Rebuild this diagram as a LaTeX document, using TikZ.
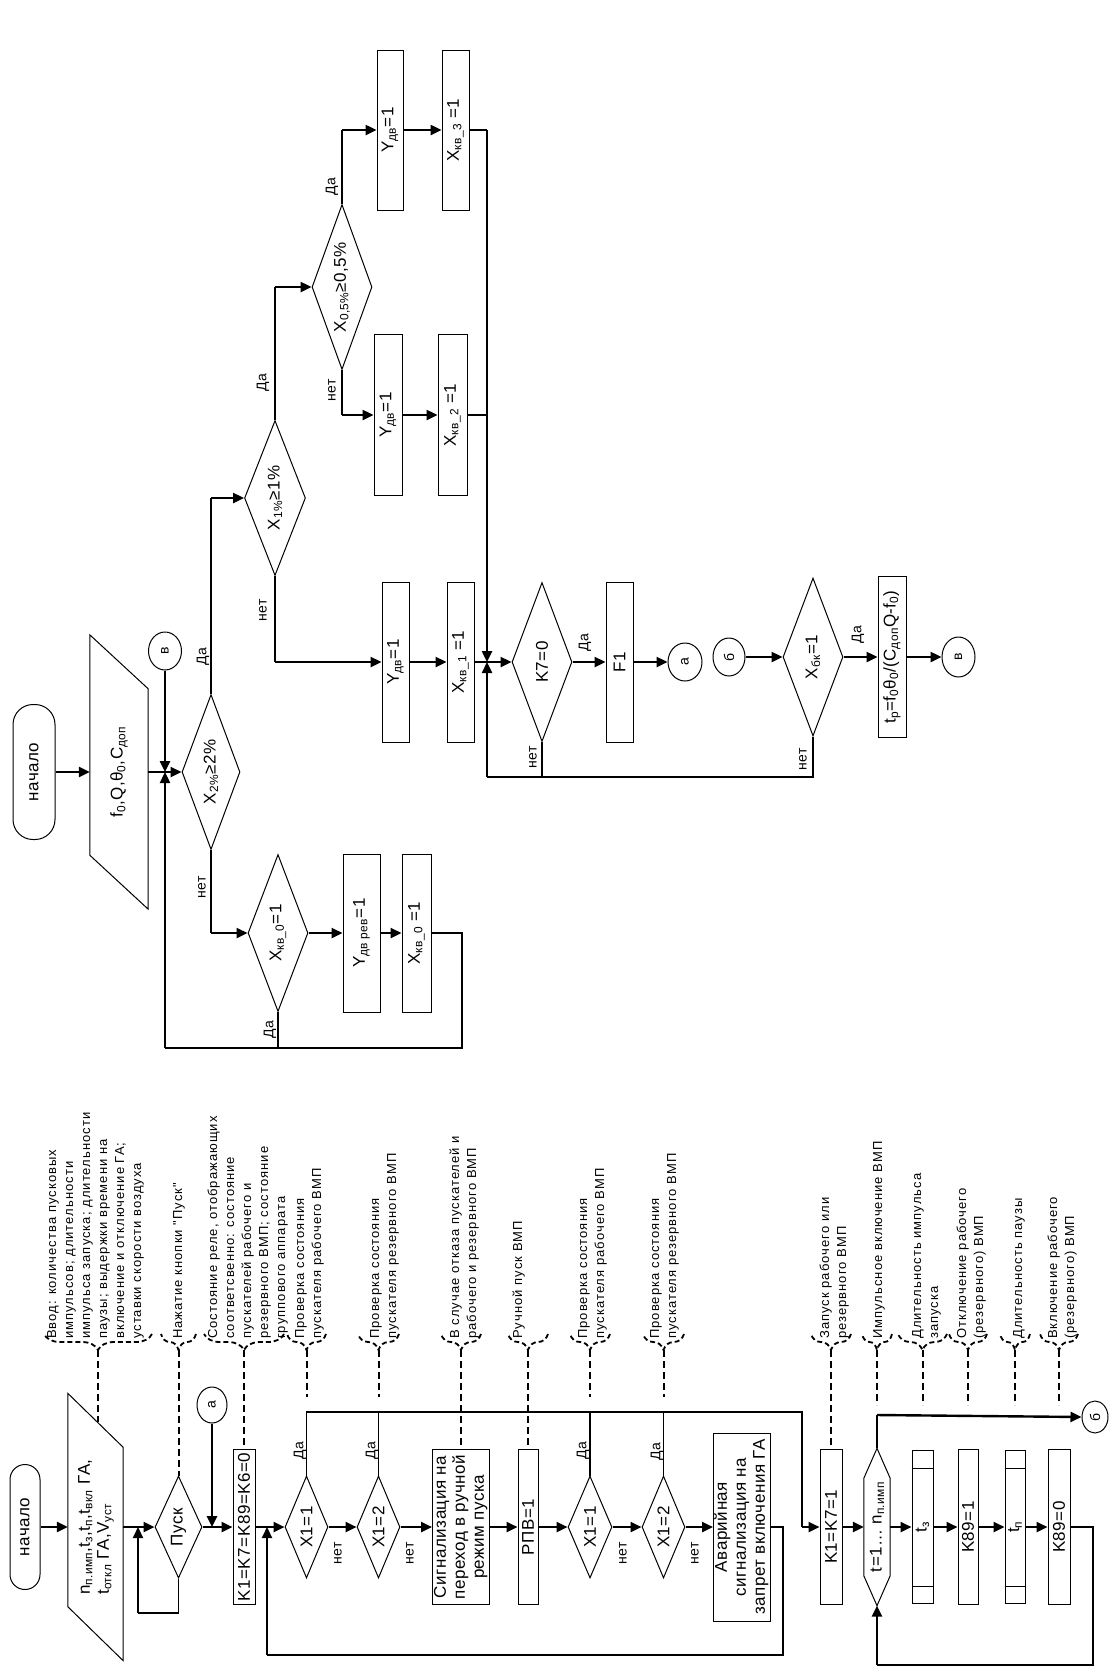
\documentclass[tikz,border=0pt]{standalone}
\usepackage{fontspec}
\setmainfont{Liberation Sans}
\newfontfamily\flowf{Liberation Sans}[LetterSpace=3]
\newfontfamily\annf{Liberation Sans}[LetterSpace=8]
\usetikzlibrary{shapes.geometric,arrows.meta,decorations.pathreplacing}
\newcommand{\myFF}{\flowf\fontsize{17}{19}\selectfont}
\newcommand{\myAF}{\annf\fontsize{13}{17}\selectfont}
\newcommand{\myLF}{\flowf\fontsize{14}{16}\selectfont}
\newcommand{\RotT}[1]{\rotatebox{90}{#1}}
\newcommand{\RotC}[1]{\rotatebox{90}{\begin{tabular}{@{}c@{}}#1\end{tabular}}}
\newcommand{\RotL}[1]{\rotatebox{90}{\begin{tabular}{@{}l@{}}#1\end{tabular}}}
\begin{document}
\begin{tikzpicture}[x=1pt,y=-1pt,
  sshp/.style={line width=1pt},
  sbox/.style={draw,line width=1pt,inner sep=0pt,font=\myFF},
  sdia/.style={draw,diamond,line width=1pt,inner sep=0pt,font=\myFF},
  sterm/.style={draw,line width=1pt,inner sep=0pt,font=\myFF},
  scon/.style={draw,ellipse,line width=1pt,inner sep=0pt,font=\myLF},
  sarr/.style={line width=2.4pt,-{Triangle[length=11pt,width=10pt]}},
  sln/.style={line width=1.2pt},
  slead/.style={line width=2pt,dash pattern=on 7pt off 4pt},
  sbrc/.style={line width=1.8pt,dash pattern=on 5pt off 3pt,decorate,decoration={brace,amplitude=16pt}},
  slab/.style={inner sep=0pt,font=\myLF},
  sann/.style={anchor=south west,inner sep=0pt,font=\myAF}
]
\fill[white] (0,0) rectangle (1109,1668);
\useasboundingbox (0,0) rectangle (1109,1668);

% ================= upper chart =================
\node[sterm,rounded corners=20pt,minimum width=42,minimum height=135] (n1) at (34,772) {\RotT{начало}};
\node[inner sep=0pt,font=\myFF,minimum width=58,minimum height=274] (par1) at (119,772) {\RotT{f\textsubscript{0},Q,θ\textsubscript{0},C\textsubscript{доп}}};
\draw[sshp] (par1.north west) -- ([yshift=54pt]par1.south west) -- (par1.south east) -- ([yshift=-54pt]par1.north east) -- cycle;
\node[scon,minimum width=33,minimum height=38] (cv1) at (165,651) {\RotT{в}};
\coordinate (j1) at (165,772);
\node[sdia,aspect=0.374,minimum width=58,minimum height=155] (d2) at (211,772) {\RotT{X\textsubscript{2\%}≥2\%}};
\node[sdia,aspect=0.39,minimum width=61,minimum height=155] (d1) at (275,498) {\RotT{X\textsubscript{1\%}≥1\%}};
\node[sdia,aspect=0.364,minimum width=60,minimum height=165] (d05) at (342,287) {\RotT{X\textsubscript{0,5\%}≥0,5\%}};
\node[sbox,minimum width=26,minimum height=160] (ya) at (390,130) {\RotT{Y\textsubscript{дв}=1}};
\node[sbox,minimum width=27,minimum height=160] (xa) at (455.5,130) {\RotT{X\textsubscript{кв\_3} =1}};
\node[sbox,minimum width=28,minimum height=161] (yb) at (388,415) {\RotT{Y\textsubscript{дв}=1}};
\node[sbox,minimum width=29,minimum height=161] (xb) at (452.5,415) {\RotT{X\textsubscript{кв\_2} =1}};
\node[sbox,minimum width=27,minimum height=160] (yc) at (395.5,662) {\RotT{Y\textsubscript{дв}=1}};
\node[sbox,minimum width=27,minimum height=160] (xc) at (460.5,662) {\RotT{X\textsubscript{кв\_1} =1}};
\coordinate (j2) at (487,662);
\node[sdia,aspect=0.377,minimum width=60,minimum height=159] (k7) at (542,662) {\RotT{K7=0}};
\node[sbox,minimum width=27,minimum height=160] (f1) at (619.5,662) {\RotT{F1}};
\node[scon,minimum width=34,minimum height=38] (ca) at (685,662) {\RotT{а}};
\node[scon,minimum width=32,minimum height=38] (cb) at (729,657) {\RotT{б}};
\node[sdia,aspect=0.38,minimum width=60,minimum height=158] (dbk) at (813,657) {\RotT{X\textsubscript{бк}=1}};
\node[sbox,minimum width=28,minimum height=161] (tp) at (892,657) {\RotT{t\textsubscript{p}=f\textsubscript{0}θ\textsubscript{0}/(C\textsubscript{доп}Q-f\textsubscript{0})}};
\node[scon,minimum width=33,minimum height=40] (cv2) at (958.5,657) {\RotT{в}};
\node[sdia,aspect=0.382,minimum width=60,minimum height=157] (d0) at (278,933) {\RotT{X\textsubscript{кв\_0}=1}};
\node[sbox,minimum width=37,minimum height=158] (yr) at (361.5,933) {\RotT{Y\textsubscript{дв рев}=1}};
\node[sbox,minimum width=29,minimum height=158] (x0) at (416.5,933) {\RotT{X\textsubscript{кв\_0} =1}};

\draw[sarr] (n1) -- (par1);
\draw[sarr] (par1) -- (d2);
\draw[sarr] (cv1) -- (j1);
\coordinate (u1) at (462,933); \coordinate (u2) at (462,1048); \coordinate (u3) at (165,1048);
\draw[sln] (x0.east) -- (u1) -- (u2) -- (u3);
\draw[sarr] (u3) -- (j1);
\draw[sln] (d0.south) -- (d0.south |- u2);
\coordinate (u4) at (211,498); \draw[sln] (d2.north) -- (u4); \draw[sarr] (u4) -- (d1.west);
\coordinate (u5) at (211,933); \draw[sln] (d2.south) -- (u5); \draw[sarr] (u5) -- (d0.west);
\coordinate (u6) at (275,287); \draw[sln] (d1.north) -- (u6); \draw[sarr] (u6) -- (d05.west);
\coordinate (u7) at (275,662); \draw[sln] (d1.south) -- (u7); \draw[sarr] (u7) -- (yc.west);
\coordinate (u8) at (342,130); \draw[sln] (d05.north) -- (u8); \draw[sarr] (u8) -- (ya.west);
\coordinate (u9) at (342,415); \draw[sln] (d05.south) -- (u9); \draw[sarr] (u9) -- (yb.west);
\draw[sarr] (ya) -- (xa);
\draw[sarr] (yb) -- (xb);
\draw[sarr] (yc) -- (xc);
\draw[sarr] (d0) -- (yr);
\draw[sarr] (yr) -- (x0);
\coordinate (u10) at (487,130); \draw[sln] (xa.east) -- (u10); \draw[sarr] (u10) -- (j2);
\draw[sln] (xb.east) -- (xb.east -| j2);
\draw[sarr] (xc) -- (k7);
\coordinate (u11) at (487,777); \coordinate (u12) at (813,777);
\draw[sln] (dbk.south) -- (u12) -- (u11);
\draw[sarr] (u11) -- (j2);
\draw[sln] (k7.south) -- (k7.south |- u11);
\draw[sarr] (k7) -- (f1);
\draw[sarr] (f1) -- (ca);
\draw[sarr] (cb) -- (dbk);
\draw[sarr] (dbk) -- (tp);
\draw[sarr] (tp) -- (cv2);

\node[slab] (l1) at (203,657) {\RotT{Да}};
\node[slab] (l2) at (202,887) {\RotT{нет}};
\node[slab] (l3) at (263,383) {\RotT{Да}};
\node[slab] (l4) at (263,610) {\RotT{нет}};
\node[slab] (l5) at (332,187) {\RotT{Да}};
\node[slab] (l6) at (332,390) {\RotT{нет}};
\node[slab] (l7) at (585,643) {\RotT{Да}};
\node[slab] (l8) at (533,757) {\RotT{нет}};
\node[slab] (l9) at (858,635) {\RotT{Да}};
\node[slab] (l10) at (803,759) {\RotT{нет}};
\node[slab] (l11) at (270,1030) {\RotT{Да}};

% ================= lower chart =================
\node[sterm,rounded corners=15pt,minimum width=30,minimum height=125] (n2) at (25,1527) {\RotT{начало}};
\node[inner sep=0pt,font=\myFF,minimum width=55,minimum height=267] (par2) at (95.5,1527) {\RotL{n\textsubscript{п.имп},t\textsubscript{з},t\textsubscript{п},t\textsubscript{вкл} ГА,\\t\textsubscript{откл} ГА,V\textsubscript{уст}}};
\draw[sshp] (par2.north west) -- ([yshift=54pt]par2.south west) -- (par2.south east) -- ([yshift=-54pt]par2.north east) -- cycle;
\coordinate (j3) at (138,1527);
\node[sdia,aspect=0.46,minimum width=47,minimum height=102] (pusk) at (178.5,1527) {\RotT{Пуск}};
\node[scon,minimum width=30,minimum height=36] (ca2) at (212,1405) {\RotT{а}};
\coordinate (j4) at (212,1527);
\node[sbox,minimum width=22,minimum height=155] (k1) at (244,1527) {\RotT{K1=K7=K89=K6=0}};
\coordinate (j5) at (267,1527);
\node[sdia,aspect=0.42,minimum width=43,minimum height=102] (x11) at (306.5,1527) {\RotT{X1=1}};
\node[sdia,aspect=0.42,minimum width=43,minimum height=102] (x12) at (378.5,1527) {\RotT{X1=2}};
\node[sbox,minimum width=56,minimum height=155] (sig) at (461,1527) {\RotC{Сигнализация на\\переход в ручной\\режим пуска}};
\node[sbox,minimum width=20,minimum height=155] (rpv) at (528,1527) {\RotT{РПВ=1}};
\node[sdia,aspect=0.43,minimum width=44,minimum height=102] (x13) at (590,1527) {\RotT{X1=1}};
\node[sdia,aspect=0.42,minimum width=43,minimum height=102] (x14) at (663.5,1527) {\RotT{X1=2}};
\node[sbox,minimum width=56,minimum height=188] (avar) at (742,1527) {\RotC{Аварийная\\сигнализация на\\запрет включения ГА}};
\node[sbox,minimum width=22,minimum height=155] (k17) at (831,1527) {\RotT{K1=K7=1}};
\node[inner sep=0pt,font=\myFF,minimum width=26,minimum height=157] (loop) at (877,1527) {\RotT{t=1… n\textsubscript{п.имп}}};
\draw[sshp] (loop.north) -- ([yshift=-30pt]loop.north east) -- ([yshift=30pt]loop.south east) -- (loop.south) -- ([yshift=30pt]loop.south west) -- ([yshift=-30pt]loop.north west) -- cycle;
\node[sbox,minimum width=21,minimum height=153] (t3) at (922.5,1527) {\RotT{t\textsubscript{з}}};
\draw[sshp] ([yshift=-18pt]t3.north west) -- ([yshift=-18pt]t3.north east);
\draw[sshp] ([yshift=18pt]t3.south west) -- ([yshift=18pt]t3.south east);
\node[sbox,minimum width=20,minimum height=155] (k891) at (968,1527) {\RotT{K89=1}};
\node[sbox,minimum width=20,minimum height=153] (tn) at (1015,1527) {\RotT{t\textsubscript{п}}};
\draw[sshp] ([yshift=-18pt]tn.north west) -- ([yshift=-18pt]tn.north east);
\draw[sshp] ([yshift=18pt]tn.south west) -- ([yshift=18pt]tn.south east);
\node[sbox,minimum width=22,minimum height=155] (k890) at (1059,1527) {\RotT{K89=0}};
\node[scon,minimum width=26,minimum height=32] (cb2) at (1095,1417) {\RotT{б}};

\draw[sarr] (n2) -- (par2);
\draw[sarr] (par2) -- (pusk);
\coordinate (v1) at (178.5,1613); \coordinate (v2) at (138,1613);
\draw[sln] (pusk.south) -- (v1) -- (v2);
\draw[sarr] (v2) -- (j3);
\draw[sarr] (pusk) -- (k1);
\draw[sarr] (ca2) -- (j4);
\draw[sarr] (k1) -- (x11);
\draw[sarr] (x11) -- (x12);
\draw[sarr] (x12) -- (sig);
\draw[sarr] (sig) -- (rpv);
\draw[sarr] (rpv) -- (x13);
\draw[sarr] (x13) -- (x14);
\draw[sarr] (x14) -- (avar);
\coordinate (w1) at (306.5,1412); \coordinate (w2) at (802,1412); \coordinate (w3) at (802,1527);
\draw[sln] (x11.north) -- (w1) -- (w2) -- (w3);
\draw[sarr] (w3) -- (k17);
\draw[sln] (x12.north) -- (x12.north |- w1);
\draw[sln] (x13.north) -- (x13.north |- w1);
\draw[sln] (x14.north) -- (x14.north |- w1);
\coordinate (w4) at (783,1527); \coordinate (w5) at (783,1655); \coordinate (w6) at (267,1655);
\draw[sln] (avar.east) -- (w4) -- (w5) -- (w6);
\draw[sarr] (w6) -- (j5);
\draw[sarr] (k17) -- (loop);
\draw[sarr] (loop) -- (t3);
\draw[sarr] (t3) -- (k891);
\draw[sarr] (k891) -- (tn);
\draw[sarr] (tn) -- (k890);
\coordinate (w7) at (1093,1527); \coordinate (w8) at (1093,1665); \coordinate (w9) at (877,1665);
\draw[sln] (k890.east) -- (w7) -- (w8) -- (w9);
\draw[sarr] (w9) -- (loop.south);
\coordinate (w10) at (877,1415);
\draw[sln] (loop.north) -- (w10);
\draw[sarr] (w10) -- (cb2.west);

\node[slab] (m1) at (300,1451) {\RotT{Да}};
\node[slab] (m2) at (372,1451) {\RotT{Да}};
\node[slab] (m3) at (583,1451) {\RotT{Да}};
\node[slab] (m4) at (657,1452) {\RotT{Да}};
\node[slab] (m5) at (338,1553) {\RotT{нет}};
\node[slab] (m6) at (410,1553) {\RotT{нет}};
\node[slab] (m7) at (623,1553) {\RotT{нет}};
\node[slab] (m8) at (695,1553) {\RotT{нет}};

% ================= annotations =================
\node[sann] (a1) at (44,1339) {\RotL{Ввод: количества пусковых\\импульсов; длительности\\импульса запуска; длительности\\паузы; выдержки времени на\\включение и отключение ГА;\\уставки скорости воздуха}};
\node[sann] (a2) at (170,1339) {\RotL{Нажатие кнопки "Пуск"}};
\node[sann] (a3) at (205,1339) {\RotL{Состояние реле, отображающих\\соответсвенно: состояние\\пускателей рабочего и\\резервного ВМП; состояние\\группового аппарата}};
\node[sann] (a4) at (292,1339) {\RotL{Проверка состояния\\пускателя рабочего ВМП}};
\node[sann] (a5) at (367,1339) {\RotL{Проверка состояния\\пускателя резервного ВМП}};
\node[sann] (a6) at (447,1339) {\RotL{В случае отказа пускателей и\\рабочего и резервного ВМП}};
\node[sann] (a7) at (510,1339) {\RotL{Ручной пуск ВМП}};
\node[sann] (a8) at (575,1339) {\RotL{Проверка состояния\\пускателя рабочего ВМП}};
\node[sann] (a9) at (647,1339) {\RotL{Проверка состояния\\пускателя резервного ВМП}};
\node[sann] (a10) at (817,1339) {\RotL{Запуск рабочего или\\резервного ВМП}};
\node[sann] (a11) at (870,1339) {\RotL{Импульсное включение ВМП}};
\node[sann] (a12) at (909,1339) {\RotL{Длительность импульса\\запуска}};
\node[sann] (a13) at (954,1339) {\RotL{Отключение рабочего\\(резервного) ВМП}};
\node[sann] (a14) at (1010,1339) {\RotL{Длительность паузы}};
\node[sann] (a15) at (1045,1339) {\RotL{Включение рабочего\\(резервного) ВМП}};

\foreach \nm/\xl/\xr in {b1/44/152,b2/161/196,b3/204/284,b4/287/326,b5/358/399,b6/441/481,b7/508/548,b8/570/610,b9/643/684,b10/811/851,b11/862/892,b12/898/947,b13/949/987,b14/1000/1030,b15/1040/1078}{
  \coordinate (\nm L) at (\xl,1334);
  \coordinate (\nm R) at (\xr,1334);
  \coordinate (\nm T) at ({(\xl+\xr)/2},1350);
  \draw[sbrc] (\nm R) -- (\nm L);
}
\coordinate (e1) at (98,1422);
\coordinate (e4) at (306.5,1397);
\coordinate (e5) at (378.5,1397);
\coordinate (e8) at (590,1397);
\coordinate (e9) at (663.5,1397);
\coordinate (e11) at (877,1405);
\coordinate (e12) at (922.5,1405);
\coordinate (e13) at (968,1405);
\coordinate (e14) at (1015,1405);
\coordinate (e15) at (1059,1405);
\draw[slead] (b1T) -- (e1);
\draw[slead] (b2T) -- (pusk.north);
\draw[slead] (b3T) -- (k1.north);
\draw[slead] (b4T) -- (e4);
\draw[slead] (b5T) -- (e5);
\draw[slead] (b6T) -- (sig.north);
\draw[slead] (b7T) -- (rpv.north);
\draw[slead] (b8T) -- (e8);
\draw[slead] (b9T) -- (e9);
\draw[slead] (b10T) -- (k17.north);
\draw[slead] (b11T) -- (e11);
\draw[slead] (b12T) -- (e12);
\draw[slead] (b13T) -- (e13);
\draw[slead] (b14T) -- (e14);
\draw[slead] (b15T) -- (e15);
\end{tikzpicture}
\end{document}
